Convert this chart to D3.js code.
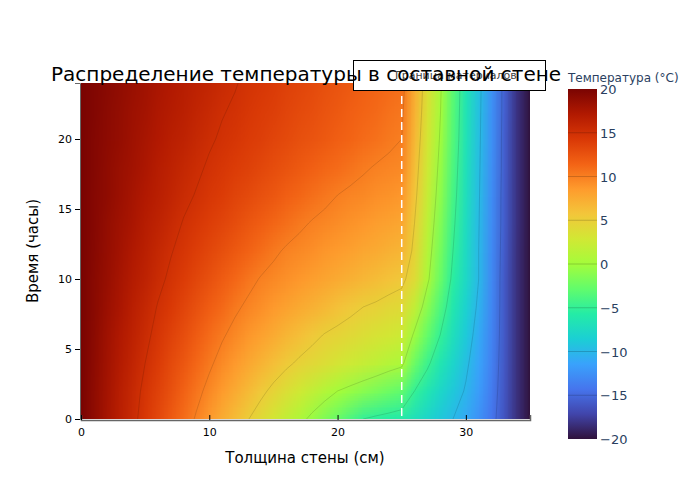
<!DOCTYPE html>
<html><head><meta charset="utf-8">
<script src="https://cdn.jsdelivr.net/npm/d3@7"></script>
<style>body{margin:0;background:#fff}svg{font-family:"DejaVu Sans",sans-serif}</style>
</head><body>
<script>
// Grid: thickness (cm) and time (h)
const xs = d3.range(0, 36, 1);
const times = [0,2,4,6,8,10,12,14,16,18,20,22,24];
// Temperature (°C) per time row, x = 0..35 cm
const T_t0  = [20,18.9,17.7,16.6,15.5,14.3,13.2,12,10.9,9.8,8.6,7.4,6.3,5.1,4,2.9,1.8,0.7,-0.5,-1.6,-2.7,-3.9,-5,-5.4,-5.7,-6,-7,-8,-9,-10,-11,-12.5,-14.3,-16.3,-18.4,-20];
const T_t2  = [20,18.9,17.8,16.7,15.7,14.6,13.6,12.6,11.5,10.5,9.5,8.5,7.5,6.5,5.5,4.5,3.6,2.7,1.8,0.9,0,-0.6,-1.2,-1.8,-2.4,-3,-5,-6.4,-7.8,-9,-10.2,-11.8,-13.9,-16.2,-18.4,-20];
const T_t4  = [20,19,18,17,16,15,14.1,13.1,12.2,11.2,10.3,9.4,8.6,7.8,7,6.2,5.4,4.7,4.2,3.7,3.1,2.6,2.1,1.6,1,0.5,-2.5,-4.6,-6.4,-8,-9.6,-11.3,-13.6,-16.1,-18.4,-20];
const T_t6  = [20,19.1,18.1,17.2,16.3,15.4,14.5,13.6,12.8,11.9,11,10.2,9.5,8.8,8.2,7.5,6.8,6.2,5.5,4.9,4.5,4.1,3.7,3.3,2.9,2.5,-0.4,-2.8,-5,-7.1,-8.9,-10.9,-13.4,-16,-18.4,-20];
const T_t8  = [20,19.2,18.3,17.5,16.6,15.8,14.9,14.2,13.4,12.6,11.8,11.1,10.3,9.7,9.2,8.6,8.1,7.6,7.1,6.6,6,5.5,5,4.7,4.3,4,1.8,-1.2,-3.8,-6.3,-8.3,-10.4,-13.2,-16,-18.4,-20];
const T_t10 = [20,19.2,18.5,17.7,16.9,16.2,15.4,14.7,14,13.3,12.6,11.9,11.2,10.5,9.9,9.5,9.1,8.7,8.3,7.9,7.5,7.1,6.7,6.3,5.9,5.5,3.9,0.4,-2.6,-5.5,-7.7,-10,-13.1,-16,-18.4,-20];
const T_t12 = [20,19.3,18.6,17.9,17.2,16.5,15.8,15.1,14.5,13.9,13.3,12.7,12.1,11.5,10.9,10.3,9.8,9.5,9.2,8.8,8.5,8.2,7.8,7.5,7.1,6.8,4.5,1,-2,-5,-7.5,-10,-13,-15.9,-18.4,-20];
const T_t14 = [20,19.4,18.7,18.1,17.5,16.8,16.2,15.6,14.9,14.4,13.9,13.4,12.9,12.3,11.8,11.3,10.8,10.3,9.9,9.6,9.3,9,8.7,8.4,8.1,7.8,5,1.6,-1.5,-4.6,-7.3,-9.9,-12.9,-15.8,-18.3,-20];
const T_t16 = [20,19.4,18.9,18.3,17.7,17.1,16.6,16,15.4,14.9,14.4,14,13.5,13.1,12.6,12.2,11.7,11.3,10.8,10.4,10,9.7,9.5,9.2,9,8.7,5.6,2.1,-1,-4.2,-7.1,-9.8,-12.8,-15.8,-18.3,-20];
const T_t18 = [20,19.5,18.9,18.4,17.9,17.4,16.8,16.3,15.8,15.3,14.8,14.4,14,13.7,13.3,12.9,12.5,12.1,11.7,11.3,11,10.6,10.2,9.9,9.7,9.5,6.1,2.6,-0.6,-3.9,-6.9,-9.7,-12.7,-15.7,-18.3,-20];
const T_t20 = [20,19.5,19,18.6,18.1,17.6,17.1,16.6,16.2,15.7,15.2,14.8,14.5,14.1,13.8,13.4,13.1,12.7,12.4,12.1,11.7,11.4,11,10.7,10.3,10,6.6,3,-0.2,-3.6,-6.7,-9.6,-12.6,-15.7,-18.3,-20];
const T_t22 = [20,19.6,19.1,18.7,18.2,17.8,17.3,16.9,16.5,16,15.6,15.1,14.8,14.4,14.1,13.8,13.4,13.1,12.8,12.4,12.1,11.7,11.4,11.1,10.7,10.4,7,3.4,0.1,-3.4,-6.6,-9.5,-12.6,-15.6,-18.3,-20];
const T_t24 = [20,19.6,19.2,18.8,18.4,18,17.5,17.1,16.7,16.3,15.9,15.5,15.1,14.7,14.4,14.1,13.7,13.4,13.1,12.7,12.4,12.1,11.7,11.4,11.1,10.8,7.3,3.7,0.3,-3.2,-6.5,-9.4,-12.5,-15.6,-18.3,-20];
const rows = [T_t0,T_t2,T_t4,T_t6,T_t8,T_t10,T_t12,T_t14,T_t16,T_t18,T_t20,T_t22,T_t24];
const xTicks = [0,10,20,30];
const yTicks = [0,5,10,15,20];
const cbTicks = [20,15,10,5,0,-5,-10,-15,-20];
const interfaceX = 25;
const contourLevels = [-15,-10,-5,0,5,10,15];
const turboStops = ["#30123b","#4145ab","#4675ed","#39a2fc","#1bcfd4","#24eca6","#61fc6c","#a4fc3b","#d1e834","#f3c63a","#fe9b2d","#f36315","#d93806","#b11901","#7a0402"];

const W=700,H=500, L=81,R=530,Tp=83,B=419;
const svg=d3.select("body").append("svg").attr("width",W).attr("height",H);
const x=d3.scaleLinear().domain([0,35]).range([L,R]);
const y=d3.scaleLinear().domain([0,24]).range([B,Tp]);
const col=d3.scaleLinear().domain(turboStops.map((_,i)=>-20+40*i/(turboStops.length-1))).range(turboStops).interpolate(d3.interpolateRgb).clamp(true);

// heatmap image (edge cells repeated so scaling does not fade the borders)
const nx=xs.length, ny=times.length;
const cv=document.createElement("canvas"); cv.width=nx+2; cv.height=ny+2;
const ctx=cv.getContext("2d");
for(let j=-1;j<=ny;j++)for(let i=-1;i<=nx;i++){
  const jj=Math.max(0,Math.min(ny-1,j)), ii=Math.max(0,Math.min(nx-1,i));
  ctx.fillStyle=col(rows[jj][ii]); ctx.fillRect(i+1,ny-j,1,1);
}
svg.append("clipPath").attr("id","pc").append("rect").attr("x",L).attr("y",Tp).attr("width",R-L).attr("height",B-Tp);
const g=svg.append("g").attr("clip-path","url(#pc)");
g.append("image").attr("href",cv.toDataURL())
 .attr("x",x(-1.5)).attr("width",x(36.5)-x(-1.5))
 .attr("y",y(27)).attr("height",y(-3)-y(27))
 .attr("preserveAspectRatio","none");

// contours
const flat=[]; rows.forEach(r=>r.forEach(v=>flat.push(v)));
const cs=d3.contours().size([nx,ny]).thresholds(contourLevels)(flat);
const proj=d3.geoTransform({point:function(cx,cy){this.stream.point(x(cx-0.5),y((cy-0.5)*2));}});
g.selectAll("path.c").data(cs).join("path").attr("d",d3.geoPath(proj))
 .attr("fill","none").attr("stroke","rgba(0,0,0,0.16)").attr("stroke-width",0.8);

// interface line
g.append("line").attr("x1",x(interfaceX)).attr("x2",x(interfaceX)).attr("y1",Tp).attr("y2",B)
 .attr("stroke","#fff").attr("stroke-width",1.5).attr("stroke-dasharray","8,5");

// axes
const ax=svg.append("g").attr("transform",`translate(0,${B+1})`).call(d3.axisBottom(x).tickValues(xTicks).tickSize(-5).tickPadding(8));
ax.select(".domain").attr("stroke","#666").attr("stroke-width",1.5);
const ay=svg.append("g").attr("transform",`translate(${L-1},0)`).call(d3.axisLeft(y).tickValues(yTicks).tickSize(5).tickPadding(3));
ay.select(".domain").attr("stroke","#666");
svg.selectAll(".tick text").attr("font-size",11).attr("fill","#000").attr("font-family","DejaVu Sans");

svg.append("text").attr("x",305).attr("y",463).attr("text-anchor","middle").attr("font-size",15).text("Толщина стены (см)");
svg.append("text").attr("transform","translate(38,251) rotate(-90)").attr("text-anchor","middle").attr("font-size",15).text("Время (часы)");

// legend
svg.append("rect").attr("x",353.5).attr("y",60.5).attr("width",192).attr("height",30).attr("fill","#fff").attr("stroke","#000");
svg.append("line").attr("x1",360).attr("x2",390).attr("y1",75).attr("y2",75).attr("stroke","#fff").attr("stroke-dasharray","8,5");
svg.append("text").attr("x",395).attr("y",79).attr("font-size",11).attr("fill","#444").text("Граница материалов");
// title
svg.append("text").attr("x",51).attr("y",81).attr("font-size",20).attr("fill","#000").text("Распределение температуры в составной стене");

// colorbar
const cy=d3.scaleLinear().domain([-20,20]).range([439,89]);
const defs=svg.append("defs");
const lg=defs.append("linearGradient").attr("id","cb").attr("x1",0).attr("x2",0).attr("y1",1).attr("y2",0);
turboStops.forEach((c,i)=>lg.append("stop").attr("offset",i/(turboStops.length-1)).attr("stop-color",c));
svg.append("rect").attr("x",568).attr("y",89).attr("width",29).attr("height",350).attr("fill","url(#cb)");
svg.selectAll("line.cbl").data(contourLevels).join("line").attr("x1",568).attr("x2",597)
 .attr("y1",d=>cy(d)).attr("y2",d=>cy(d)).attr("stroke","rgba(0,0,0,0.18)");
svg.selectAll("text.cbt").data(cbTicks).join("text").attr("x",600).attr("y",d=>cy(d)+5)
 .attr("font-size",13).attr("fill","#2a3f5f").text(d=>d<0?"\u2212"+(-d):d);
svg.append("text").attr("x",568).attr("y",82).attr("font-size",12).attr("fill","#2a3f5f").text("Температура (°C)");
</script>
</body></html>
